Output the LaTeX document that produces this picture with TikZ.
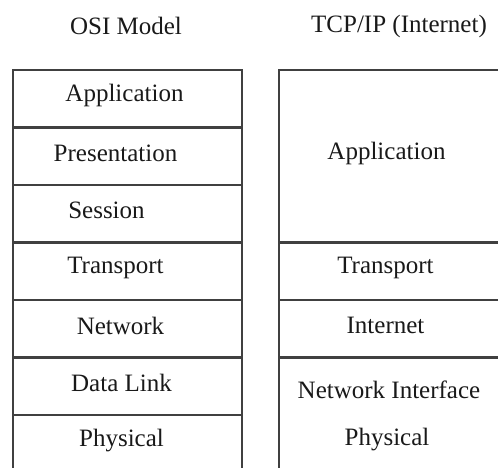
\documentclass[tikz,border=0pt]{standalone}
\usepackage{fontspec}
\setmainfont{Liberation Serif}
\usetikzlibrary{positioning}

\begin{document}
\begin{tikzpicture}[x=1pt,y=-1pt,
    layer/.style={draw=black!75, line width=2.2pt, minimum width=229pt,
      minimum height=57.5pt, inner sep=0pt, outer sep=0pt, anchor=north west},
    lbl/.style={font=\fontsize{25}{29}\selectfont, text=black!90, inner sep=0pt}]
        % frame
        \useasboundingbox (0,0) rectangle (498,468);
        \clip (0,0) rectangle (498,468);

        % headings
        \node[lbl] (osi) at (126,26) {OSI Model};
        \node[lbl] (tcp) at (399,26) {TCP/IP (Internet)};

        % osi layers
        \foreach \i/\nm/\txt/\dx in {0/app/Application/-3, 1/pres/Presentation/-12,
            2/ses/Session/-21, 3/trans/Transport/-12, 4/net/Network/-7,
            5/dl/Data Link/-6, 6/phy/Physical/-6}{
          \node[layer] (osi-\nm) at (13,{70+57.5*\i}) {};
          \node[lbl] (osi-\nm-txt) at ([xshift=\dx pt,yshift=3pt]osi-\nm.center) {\txt};
        }

        % tcp/ip layers
        \node[layer, minimum width=225pt, minimum height=172.5pt] (tcp-app) at (279,70) {};
        \node[layer, minimum width=225pt] (tcp-trans) at (279,242.5) {};
        \node[layer, minimum width=225pt] (tcp-inet) at (279,300) {};
        \node[layer, minimum width=225pt, minimum height=115pt] (tcp-ni) at (279,357.5) {};

        % labels
        \node[lbl] (tcp-app-txt) at ([xshift=-5pt,yshift=3pt]tcp-app.center) {Application};
        \node[lbl] (tcp-trans-txt) at ([xshift=-6pt,yshift=3pt]tcp-trans.center) {Transport};
        \node[lbl] (tcp-inet-txt) at ([xshift=-6pt,yshift=3pt]tcp-inet.center) {Internet};
        \node[lbl] (tcp-ni-txt) at (389,390) {Network Interface};
        \node[lbl] (tcp-phy-txt) at (387,440) {Physical};
    \end{tikzpicture}
\end{document}
